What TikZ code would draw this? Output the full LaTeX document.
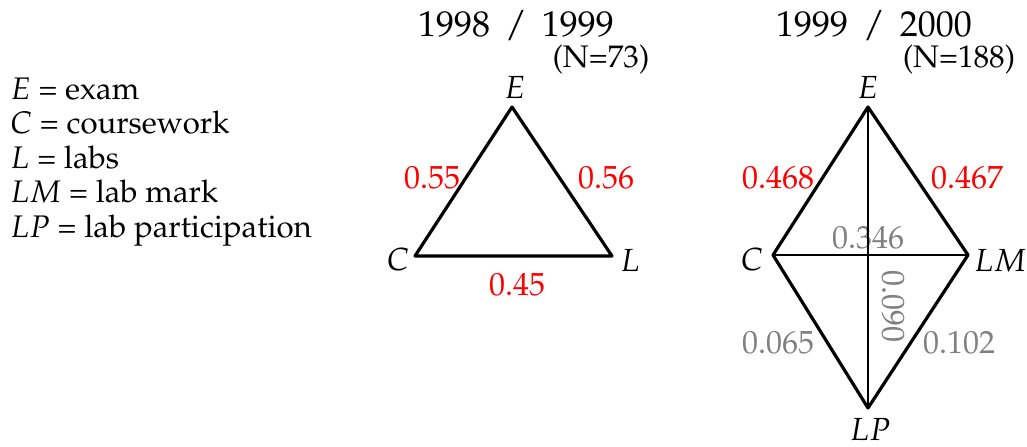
\documentclass[tikz,border=0pt]{standalone}
\usepackage[T1]{fontenc}
\usepackage{mathpazo}
\usepackage{tikz}
\definecolor{corred}{RGB}{255,0,0}
\definecolor{corgray}{RGB}{128,128,128}

\begin{document}
\begin{tikzpicture}[x=0.5pt, y=-0.5pt, font=\fontsize{16}{19}\selectfont, line join=round,
		lbl/.style={anchor=base, inner sep=0pt},
		hival/.style={lbl, text=corred},
		loval/.style={lbl, text=corgray},
		outer/.style={line width=1.6pt},
		inner/.style={line width=1pt}]
				%Bildbereich
				\useasboundingbox (0,0) rectangle (1027,446);
				% Legende
				\foreach \s/\w [count=\i] in {E/exam, C/coursework, L/labs, LM/lab mark, LP/lab participation}
					\node[lbl, anchor=base west, font=\fontsize{15.6}{19}\selectfont] (leg\i) at (10,{99+34.5*(\i-1)}) {$\s$ = \w};
				% Jahrgang 1998/1999
				\node[lbl, font=\fontsize{18}{22}\selectfont] (titleA) at (516,36) {1998 \,/\, 1999};
				\node[lbl, font=\fontsize{15.6}{18}\selectfont] (numA) at (601,67) {(N=73)};
				\coordinate (EA) at (512,107);
				\coordinate (CA) at (415,256);
				\coordinate (LA) at (612,256);
				\draw[outer] (EA) -- (LA) -- (CA) -- cycle;
				\node[lbl] (nEA) at (515,98) {$E$};
				\node[lbl] (nCA) at (398,270) {$C$};
				\node[lbl] (nLA) at (630,271) {$L$};
				\node[hival] (vECA) at (432,188) {0.55};
				\node[hival] (vELA) at (606,188) {0.56};
				\node[hival] (vCLA) at (517,295) {0.45};
				% Jahrgang 1999/2000
				\node[lbl, font=\fontsize{18}{22}\selectfont] (titleB) at (874,36) {1999 \,/\, 2000};
				\node[lbl, font=\fontsize{15.6}{18}\selectfont] (numB) at (959,67) {(N=188)};
				\coordinate (EB) at (868,107);
				\coordinate (CB) at (773,255);
				\coordinate (MB) at (968,255);
				\coordinate (PB) at (868,408);
				\node[lbl] (nEB) at (868,98) {$E$};
				\node[lbl] (nCB) at (752,270) {$C$};
				\node[lbl] (nMB) at (1000,271) {$LM$};
				\node[lbl] (nPB) at (870,440) {$LP$};
				\node[hival] (vECB) at (778,188) {0.468};
				\node[hival] (vEMB) at (967,188) {0.467};
				\node[loval] (vEPB) at (868,248) {0.346};
				\node[loval, anchor=center, rotate=-90] (vCMB) at (893,306) {0.090};
				\node[loval] (vCPB) at (778,353) {0.065};
				\node[loval] (vMPB) at (959,353) {0.102};
				\draw[inner] (EB) -- (PB);
				\draw[inner] (CB) -- (MB);
				\draw[outer] (EB) -- (MB) -- (PB) -- (CB) -- cycle;
			\end{tikzpicture}
\end{document}
